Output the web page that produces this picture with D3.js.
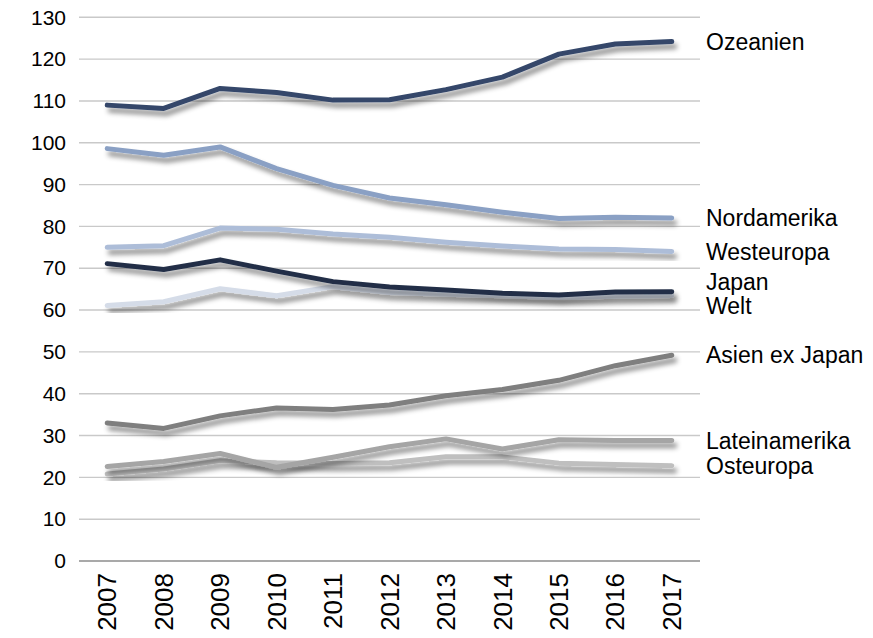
<!DOCTYPE html>
<html>
<head>
<meta charset="utf-8">
<script src="https://cdn.jsdelivr.net/npm/d3@7"></script>
<style>
  body{margin:0;background:#fff;}
  text{font-family:"Liberation Sans",Arial,sans-serif;fill:#000;}
</style>
</head>
<body>
<svg id="chart" width="873" height="638"></svg>
<script>
//chart values
var years = [2007,2008,2009,2010,2011,2012,2013,2014,2015,2016,2017];
var yTicks = [0,10,20,30,40,50,60,70,80,90,100,110,120,130];

var ozeanien      = [109.0,108.2,113.0,112.0,110.2,110.3,112.7,115.7,121.2,123.6,124.2];
var nordamerika   = [98.6,97.0,99.0,93.8,89.8,86.8,85.2,83.4,81.9,82.2,82.0];
var westeuropa    = [75.0,75.4,79.6,79.3,78.2,77.4,76.2,75.3,74.6,74.5,74.0];
var japan         = [71.1,69.7,72.0,69.3,66.8,65.5,64.8,64.0,63.6,64.3,64.4];
var welt          = [61.1,62.0,65.1,63.4,65.6,64.2,63.8,63.4,63.0,63.3,63.5];
var asienExJapan  = [33.0,31.7,34.7,36.6,36.2,37.3,39.5,41.0,43.2,46.7,49.2];
var lateinamerika = [22.6,23.8,25.7,22.4,24.8,27.3,29.2,26.8,29.0,28.8,28.8];
var osteuropa     = [20.8,22.0,24.0,23.5,23.3,23.5,24.9,24.9,23.4,23.1,22.8];

//drawing order: back to front
var series = [
    {name:'Osteuropa',      values:osteuropa,     color:'#bfbfbf'},
    {name:'Lateinamerika',  values:lateinamerika, color:'#a5a5a5'},
    {name:'Asien ex Japan', values:asienExJapan,  color:'#7f7f7f'},
    {name:'Welt',           values:welt,          color:'#d5dce8'},
    {name:'Japan',          values:japan,         color:'#222f47'},
    {name:'Westeuropa',     values:westeuropa,    color:'#adbdd8'},
    {name:'Nordamerika',    values:nordamerika,   color:'#8aa0c4'},
    {name:'Ozeanien',       values:ozeanien,      color:'#34476a'}
];

var svg = d3.select('#chart');
var plotLeft = 79, plotRight = 700, plotTop = 17.3, plotBottom = 561;

var x = d3.scaleBand().domain(years).range([plotLeft,plotRight]);
var y = d3.scaleLinear().domain([0,130]).range([plotBottom,plotTop]);

//shadow under the lines
var defs = svg.append('defs');
defs.append('filter')
    .attr('id','shadow')
    .attr('x','-10%').attr('y','-20%')
    .attr('width','130%').attr('height','160%')
    .append('feDropShadow')
    .attr('dx',3).attr('dy',5)
    .attr('stdDeviation',2.8)
    .attr('flood-color','#000')
    .attr('flood-opacity',0.45);

//grid lines
svg.append('g')
   .selectAll('line')
   .data(yTicks.filter((t)=>t>0))
   .enter()
   .append('line')
   .attr('x1',plotLeft).attr('x2',plotRight)
   .attr('y1',(d)=>y(d)).attr('y2',(d)=>y(d))
   .style('stroke','#c9c9c9')
   .style('stroke-width',1.4);

//y axis, labels only
var yAxis = svg.append('g')
   .attr('transform','translate('+plotLeft+',0)')
   .call(d3.axisLeft(y).tickValues(yTicks).tickSize(0).tickPadding(13));
yAxis.select('.domain').remove();
yAxis.selectAll('text').style('font-size','21px');

//x axis, rotated years
var xAxis = svg.append('g')
   .attr('transform','translate(0,'+plotBottom+')')
   .call(d3.axisBottom(x).tickSize(0).tickPadding(10));
xAxis.select('.domain')
     .attr('d','M'+plotLeft+',0H'+plotRight)
     .style('stroke','#8c8c8c')
     .style('stroke-width',1.6);
xAxis.selectAll('text')
     .style('font-size','26px')
     .attr('transform','rotate(-90)')
     .attr('x',-12).attr('y',0)
     .attr('dy','0.35em')
     .style('text-anchor','end');

var line = d3.line()
    .x((d,i)=>x(years[i])+x.bandwidth()/2)
    .y((d)=>y(d));

svg.append('g')
   .selectAll('path')
   .data(series)
   .enter()
   .append('path')
   .attr('d',(s)=>line(s.values))
   .attr('filter','url(#shadow)')
   .style('fill','none')
   .style('stroke',(s)=>s.color)
   .style('stroke-width',5)
   .style('stroke-linecap','round')
   .style('stroke-linejoin','round');

//labels at the end of each line, pushed apart when they collide
var labels = series.map((s)=>({name:s.name,pos:y(s.values[s.values.length-1])}))
                   .sort((a,b)=>a.pos-b.pos);
var gap = 24;
for(var k=0;k<50;k++){
    for(var i=1;i<labels.length;i++){
        var d = labels[i].pos-labels[i-1].pos;
        if(d<gap){
            var shift = (gap-d)/2;
            labels[i-1].pos -= shift;
            labels[i].pos += shift;
        }
    }
}

svg.append('g')
   .selectAll('text')
   .data(labels)
   .enter()
   .append('text')
   .attr('x',706)
   .attr('y',(d)=>d.pos)
   .attr('dy','0.35em')
   .style('font-size','23px')
   .text((d)=>d.name);
</script>
</body>
</html>
